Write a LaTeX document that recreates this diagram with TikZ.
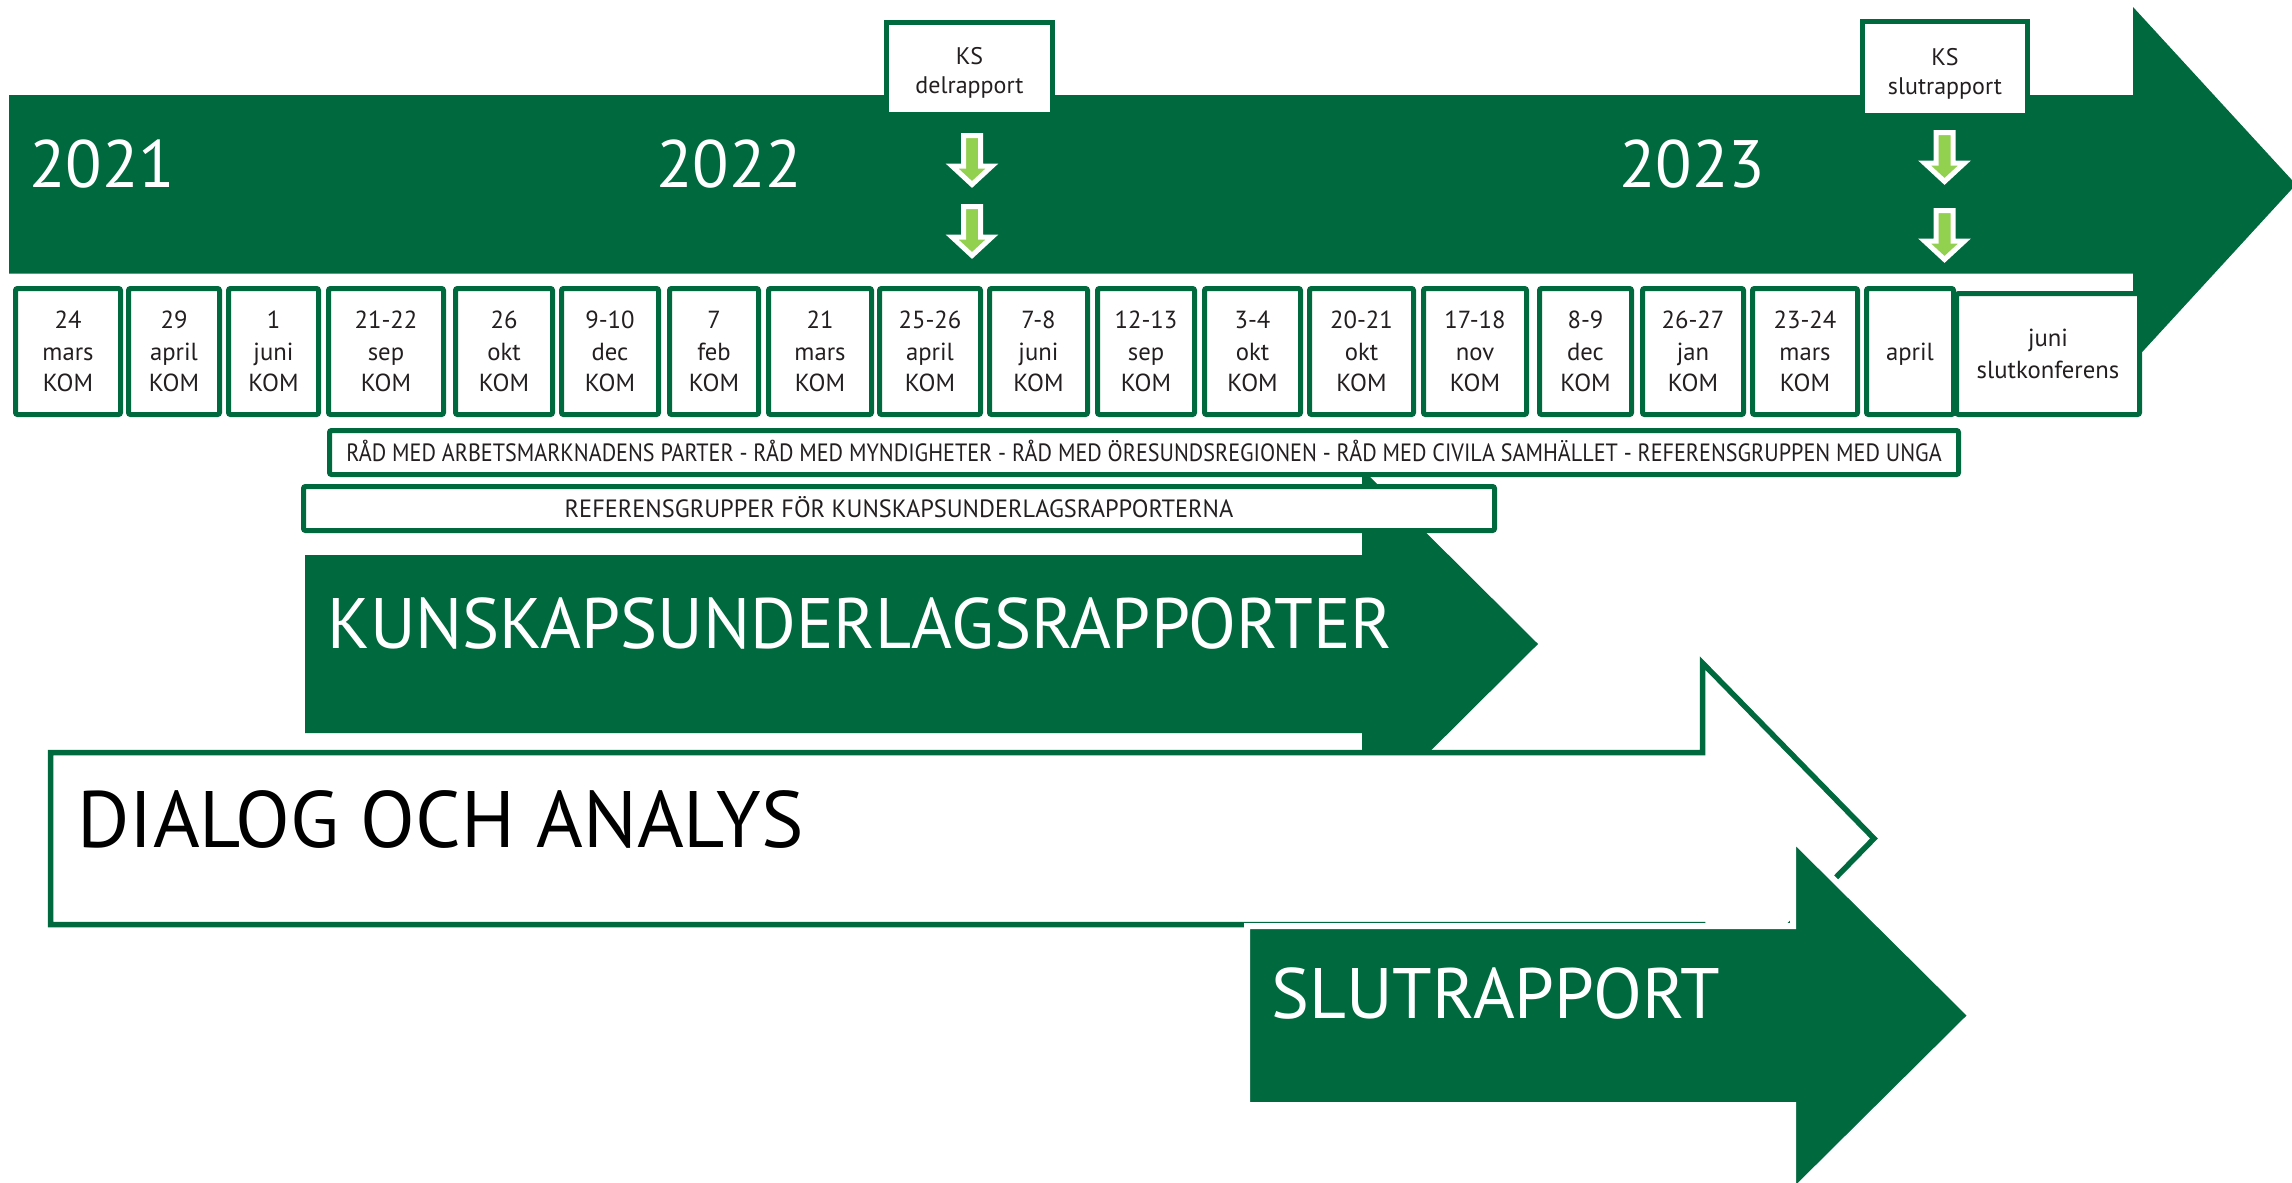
\documentclass[tikz,border=0pt]{standalone}
\usepackage{fontspec}
\setmainfont{PT Sans}
\newfontfamily\radfont[FakeStretch=0.885]{PT Sans}
\newfontfamily\reffont[FakeStretch=0.975]{PT Sans}
\newfontfamily\kunfont[FakeStretch=0.98]{PT Sans}
\definecolor{dg}{RGB}{0,105,62}
\definecolor{lg}{RGB}{146,208,80}
\definecolor{tx}{RGB}{35,31,32}
\tikzset{
  datebox/.style={draw=dg, line width=2.5pt, fill=white, rounded corners=1pt, inner sep=0pt, align=center, text=tx, font=\fontsize{12.35pt}{15.75pt}\selectfont},
  ksbox/.style={draw=dg, line width=2.5pt, fill=white, inner sep=0pt},
  kstext/.style={inner sep=0pt, align=center, text=tx, font=\fontsize{12pt}{14.5pt}\selectfont},
  barbox/.style={draw=dg, line width=2.5pt, fill=white, rounded corners=1pt, inner sep=0pt, text=tx, text height=8.75pt, text depth=0pt},
  year/.style={anchor=base west, inner sep=0pt, text=white, font=\fontsize{33.5pt}{40pt}\selectfont},
  biglabel/.style={anchor=base west, inner sep=0pt, font=\fontsize{35.7pt}{42pt}\selectfont},
  garrow/.style={fill=lg, draw=white, line width=2.5pt, miter limit=10},
}
\newcommand\mkdate[4]{\node[datebox, minimum width={(#3-#2-5)*0.5pt}, minimum height=63pt] (#1) at ({(#2+#3)/2},351.5) {#4};}
\newcommand\mkarrow[2]{\path[garrow] ({#1-8.5},{#2+2.5}) -- ({#1+8.5},{#2+2.5}) -- ({#1+8.5},{#2+33}) -- ({#1+20},{#2+33}) -- (#1,{#2+51.5}) -- ({#1-20},{#2+33}) -- ({#1-8.5},{#2+33}) -- cycle;}
\begin{document}
\begin{tikzpicture}[x=0.5pt,y=-0.5pt]
\useasboundingbox (0,0) rectangle (2292,1183);
% main timeline arrow
\fill[dg] (9,95) -- (2133,95) -- (2133,7) -- (2296,184.5) -- (2133,362) -- (2133,273.5) -- (9,273.5) -- cycle;
\node[year] (y2021) at (29,187) {2021};
\node[year] (y2022) at (656,187) {2022};
\node[year] (y2023) at (1619,187) {2023};
% KS boxes
\node[ksbox, minimum width={(1055-884-5)*0.5pt}, minimum height={(117-20-5)*0.5pt}] (ks1) at (969.5,68.5) {};
\node[kstext] (ks1t) at (969.5,72.5) {KS\\delrapport};
\node[ksbox, minimum width={(2030-1860-5)*0.5pt}, minimum height={(118-19-5)*0.5pt}] (ks2) at (1945,68.5) {};
\node[kstext] (ks2t) at (1945,74) {KS\\slutrapport};
% small arrows
\mkarrow{972}{133}
\mkarrow{972}{204}
\mkarrow{1944.5}{130}
\mkarrow{1944.5}{208}
% date boxes
\mkdate{d1}{13}{123}{24\\mars\\KOM}
\mkdate{d2}{126}{222}{29\\april\\KOM}
\mkdate{d3}{226}{321}{1\\juni\\KOM}
\mkdate{d4}{326}{446}{21-22\\sep\\KOM}
\mkdate{d5}{453}{555}{26\\okt\\KOM}
\mkdate{d6}{559}{661}{9-10\\dec\\KOM}
\mkdate{d7}{667}{761}{7\\feb\\KOM}
\mkdate{d8}{766}{874}{21\\mars\\KOM}
\mkdate{d9}{877}{983}{25-26\\april\\KOM}
\mkdate{d10}{987}{1090}{7-8\\juni\\KOM}
\mkdate{d11}{1095}{1197}{12-13\\sep\\KOM}
\mkdate{d12}{1202}{1303}{3-4\\okt\\KOM}
\mkdate{d13}{1307}{1416}{20-21\\okt\\KOM}
\mkdate{d14}{1421}{1529}{17-18\\nov\\KOM}
\mkdate{d15}{1537}{1634}{8-9\\dec\\KOM}
\mkdate{d16}{1640}{1746}{26-27\\jan\\KOM}
\mkdate{d17}{1750}{1860}{23-24\\mars\\KOM}
\node[datebox, text depth=0pt, minimum width={(1956-1864-5)*0.5pt}, minimum height=63pt] (d18) at (1910,351.5) {april};
\node[datebox, minimum width={(2142-1954-5)*0.5pt}, minimum height={(417-291-5)*0.5pt}] (d19) at (2048,354) {juni\\slutkonferens};
% kunskapsunderlag arrow
\fill[dg] (305,555) -- (1362,555) -- (1362,469) -- (1538,644) -- (1362,819) -- (1362,733) -- (305,733) -- cycle;
% bars
\node[barbox, font=\radfont\fontsize{12.5pt}{15pt}\selectfont, minimum width={(1961-327-5)*0.5pt}, minimum height={(477-428-5)*0.5pt}] (rad) at (1144,452.5) {RÅD MED ARBETSMARKNADENS PARTER - RÅD MED MYNDIGHETER - RÅD MED ÖRESUNDSREGIONEN - RÅD MED CIVILA SAMHÄLLET - REFERENSGRUPPEN MED UNGA};
\node[barbox, font=\reffont\fontsize{12.5pt}{15pt}\selectfont, minimum width={(1497-301-5)*0.5pt}, minimum height={(533-484-5)*0.5pt}] (ref) at (899,508.5) {REFERENSGRUPPER FÖR KUNSKAPSUNDERLAGSRAPPORTERNA};
\node[biglabel, text=white, font=\kunfont\fontsize{35.7pt}{42pt}\selectfont] (kun) at (327,648) {KUNSKAPSUNDERLAGSRAPPORTER};
% dialog arrow
\filldraw[draw=dg, fill=white, line width=2.75pt] (50.5,752.5) -- (1702.5,752.5) -- (1702.5,663) -- (1874,838.5) -- (1702.5,1014) -- (1702.5,924.5) -- (50.5,924.5) -- cycle;
\node[biglabel, text=black, font=\fontsize{40pt}{48pt}\selectfont] (dia) at (77,847) {DIALOG OCH ANALYS};
% slutrapport arrow
\filldraw[fill=dg, draw=white, line width=3pt] (1247,926) -- (1793,926) -- (1793,839) -- (1971,1015.5) -- (1793,1192) -- (1793,1105) -- (1247,1105) -- cycle;
\node[biglabel, text=white] (slut) at (1271,1018) {SLUTRAPPORT};
\end{tikzpicture}
\end{document}
